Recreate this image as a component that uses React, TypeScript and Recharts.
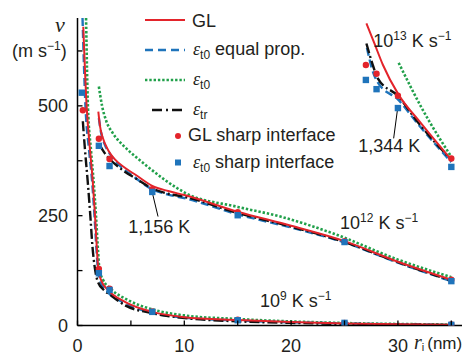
import React from 'react';
import { ComposedChart, Line, Scatter, XAxis, YAxis, ReferenceLine } from 'recharts';

type P = [number, number];

// ---- cooling rate 10^9 K/s ----
const gl9: P[] = [[0.54, 680], [0.86, 497], [1.17, 400], [1.42, 331], [1.64, 250], [1.82, 172], [1.95, 126], [2.2, 104], [2.85, 81], [4.44, 54], [7, 31], [10, 19], [15, 12.5], [20, 8], [25, 4.6], [30, 2.7], [35, 1.6]];
const eq9: P[] = [[0.47, 700], [0.75, 497], [1.08, 400], [1.36, 331], [1.59, 250], [1.78, 172], [1.92, 126], [2.15, 99], [2.76, 78], [4.44, 51], [7, 28.5], [10, 18], [15, 11.4], [25, 4.6], [35, 1.1]];
const t09: P[] = [[0.8, 700], [0.98, 497], [1.26, 400], [1.5, 331], [1.73, 250], [1.92, 172], [2.06, 126], [2.39, 104], [3.13, 83], [4.72, 58], [7.25, 35], [10, 23], [15, 14.8], [25, 5.7], [35, 2.3]];
const tr9: P[] = [[0.5, 465], [0.7, 400], [0.95, 330], [1.2, 250], [1.4, 180], [1.6, 135], [1.9, 100], [2.5, 80], [3.04, 70], [4.44, 46], [7, 28], [10, 17], [15, 9.5], [20, 6], [25, 3.4], [30, 2], [35, 1.1]];

// ---- cooling rate 10^12 K/s ----
const gl12: P[] = [[1.95, 487], [2.1, 455], [2.4, 425], [2.9, 398], [3.5, 378], [4.5, 358], [5.5, 342], [7, 318], [8.5, 306], [10, 297], [15, 259], [20, 227], [25, 192], [30, 145], [35, 104]];
const eq12: P[] = [[2.0, 472], [2.2, 440], [2.5, 415], [3.0, 392], [3.8, 368], [5.2, 340], [7, 310], [8.5, 298], [10, 290], [15, 253], [20, 223], [25, 189], [30, 143], [35, 101]];
const t012: P[] = [[2.0, 544], [2.3, 500], [2.7, 465], [3.3, 438], [4.4, 407], [5.5, 383], [6.6, 361], [8.2, 331], [10, 303], [15, 270], [19, 248], [24, 209], [30, 150], [35, 110]];
const tr12: P[] = [[2.1, 410], [2.5, 394], [2.9, 382], [4.1, 356], [5.5, 334], [7, 312], [8.5, 300], [10, 293], [15, 256], [20, 225], [25, 190], [30, 144], [35, 102]];

// ---- cooling rate 10^13 K/s ----
const gl13: P[] = [[27.05, 688], [27.8, 642], [28.6, 593], [30.07, 525], [32, 465], [35, 377]];
const eq13: P[] = [[27.1, 632], [27.6, 582], [28.1, 554], [30.07, 513], [31.8, 461], [35, 372]];
const t013: P[] = [[30.07, 598], [32.3, 492], [35, 384]];
const tr13: P[] = [[27.05, 642], [27.7, 589], [28.1, 563], [30.07, 521], [31.7, 468], [35, 377]];

// ---- sharp interface points ----
const glSharp: P[] = [[0.5, 490], [2, 129], [3, 84], [7, 32], [15, 13], [25, 6], [35, 2.5],
  [2, 425], [3, 379], [7, 310], [15, 258], [25, 192], [35, 104],
  [27, 593], [28, 573], [30, 523], [35, 380]];
const eqSharp: P[] = [[0.4, 530], [2, 119], [3, 81], [7, 31], [15, 12], [25, 6], [35, 1.5],
  [2, 409], [3, 363], [7, 304], [15, 251], [25, 190], [35, 101],
  [27, 559], [28, 538], [30, 495], [35, 361]];

// ---- axes ----
const xTicks = [0, 5, 10, 15, 20, 25, 30, 35];
const xLabelTicks = [0, 10, 20, 30];
const yTicks = [0, 125, 250, 375, 500, 625];
const yLabelTicks = [0, 250, 500];

// leader lines for annotations
const lead1156: P[] = [[7.06, 297], [7.54, 248]];
const lead1344: P[] = [[29.95, 490], [29.6, 426]];

const RED = '#e3242b';
const BLUE = '#1f74bb';
const GREEN = '#21a04a';
const BLACK = '#111111';
const TXT = '#231f20';
const sans = '"Liberation Sans", Arial, sans-serif';
const serif = '"Liberation Serif", "DejaVu Serif", serif';

const toObj = (a: P[]) => a.map(([r, v]) => ({ r, v }));

const XTick = (props: any) => {
  const { x, y, payload } = props;
  const v = payload.value;
  return (
    <g>
      <line x1={x} x2={x} y1={y} y2={y - 5} stroke="#000" strokeWidth={1.3} />
      {xLabelTicks.includes(v) && (
        <text x={x} y={y + 26} textAnchor="middle" fontSize={18} fontFamily={sans} fill={TXT}>{v}</text>
      )}
    </g>
  );
};

const YTick = (props: any) => {
  const { x, y, payload } = props;
  const v = payload.value;
  return (
    <g>
      <line x1={x} x2={x + 5} y1={y} y2={y} stroke="#000" strokeWidth={1.3} />
      {yLabelTicks.includes(v) && (
        <text x={x - 9.5} y={y + 6.4} textAnchor="end" fontSize={18} fontFamily={sans} fill={TXT}>{v}</text>
      )}
    </g>
  );
};

const RedDot = (p: any) => <circle cx={p.cx} cy={p.cy} r={3.2} fill={RED} />;
const BlueSq = (p: any) => <rect x={p.cx - 3.2} y={p.cy - 3.2} width={6.4} height={6.4} fill={BLUE} />;

const lineCommon = { dataKey: 'v', dot: false, activeDot: false, isAnimationActive: false, type: 'monotone' as const };

const Eps = ({ sub }: { sub: string }) => (
  <>
    <tspan fontFamily={serif} fontStyle="italic" fontSize={18}>ε</tspan>
    <tspan fontSize={12} dy={4}>{sub}</tspan>
  </>
);

export default function App() {
  return (
    <div style={{ position: 'absolute', left: 0, top: 0, width: 473, height: 354, background: '#fff' }}>
      <ComposedChart width={473} height={354} margin={{ top: 18, right: 11, bottom: 0, left: 0 }}>
        <XAxis type="number" dataKey="r" domain={[0, 36]} ticks={xTicks} interval={0} allowDataOverflow
          tick={<XTick />} tickLine={false} tickSize={0} tickMargin={0} height={28.5}
          axisLine={{ stroke: '#000', strokeWidth: 1.5 }} />
        <YAxis type="number" domain={[0, 700]} ticks={yTicks} interval={0} allowDataOverflow
          tick={<YTick />} tickLine={false} tickSize={0} tickMargin={0} width={77.5}
          axisLine={{ stroke: '#000', strokeWidth: 1.5 }} />

        {[t09, t012, t013].map((d, i) => (
          <Line key={'g' + i} {...lineCommon} data={toObj(d)} stroke={GREEN} strokeWidth={2.6} strokeDasharray="2.4 1.9" />
        ))}
        {[eq9, eq12, eq13].map((d, i) => (
          <Line key={'b' + i} {...lineCommon} data={toObj(d)} stroke={BLUE} strokeWidth={2.4} strokeDasharray="8 4" />
        ))}
        {[tr9, tr12, tr13].map((d, i) => (
          <Line key={'k' + i} {...lineCommon} data={toObj(d)} stroke={BLACK} strokeWidth={2.4} strokeDasharray="10 3 2 3" />
        ))}
        {[gl9, gl12, gl13].map((d, i) => (
          <Line key={'r' + i} {...lineCommon} data={toObj(d)} stroke={RED} strokeWidth={2} />
        ))}

        <Scatter data={toObj(glSharp)} dataKey="v" isAnimationActive={false} shape={RedDot} />
        <Scatter data={toObj(eqSharp)} dataKey="v" isAnimationActive={false} shape={BlueSq} />

        <ReferenceLine segment={toObj(lead1156).map(p => ({ x: p.r, y: p.v }))} stroke="#000" strokeWidth={1} />
        <ReferenceLine segment={toObj(lead1344).map(p => ({ x: p.r, y: p.v }))} stroke="#000" strokeWidth={1} />
      </ComposedChart>

      <svg width={473} height={354} style={{ position: 'absolute', left: 0, top: 0, pointerEvents: 'none' }}
        fontFamily={sans} fill={TXT}>
        {/* axis labels */}
        <text x={55} y={31.7} fontFamily={serif} fontStyle="italic" fontSize={22}>v</text>
        <text x={12} y={57} fontSize={18}>(m s<tspan fontSize={12} dy={-7}>−1</tspan><tspan dy={7}>)</tspan></text>
        <text x={414} y={348.5} fontSize={17}>
          <tspan fontFamily={serif} fontStyle="italic" fontSize={20}>r</tspan>
          <tspan fontSize={11} dy={2.5}>i</tspan>
          <tspan dy={-2.5} dx={3}>(nm)</tspan>
        </text>

        {/* legend */}
        <line x1={145} x2={185} y1={20} y2={20} stroke={RED} strokeWidth={2} />
        <text x={192} y={26.7} fontSize={18}>GL</text>
        <line x1={145} x2={185} y1={50} y2={50} stroke={BLUE} strokeWidth={2.4} strokeDasharray="8 5" />
        <text x={193} y={54.5} fontSize={18}><Eps sub="t0" /><tspan dy={-4} fontSize={18}> equal prop.</tspan></text>
        <line x1={145} x2={185} y1={80} y2={80} stroke={GREEN} strokeWidth={2.6} strokeDasharray="2.4 1.9" />
        <text x={193} y={84.5} fontSize={18}><Eps sub="t0" /></text>
        <line x1={152} x2={185} y1={110} y2={110} stroke={BLACK} strokeWidth={2.4} strokeDasharray="10 4 2 4" />
        <text x={193} y={114.5} fontSize={18}><Eps sub="tr" /></text>
        <circle cx={178} cy={136} r={3} fill={RED} />
        <text x={188} y={140.5} fontSize={18}>GL sharp interface</text>
        <rect x={175} y={159.5} width={6} height={6} fill={BLUE} />
        <text x={193} y={168} fontSize={18}><Eps sub="t0" /><tspan dy={-4} fontSize={18}> sharp interface</tspan></text>

        {/* annotations */}
        <text x={373.3} y={46.7} fontSize={18}>10<tspan fontSize={12} dy={-7}>13</tspan><tspan dy={7}> K s</tspan><tspan fontSize={12} dy={-7}>−1</tspan></text>
        <text x={340} y={229.3} fontSize={18}>10<tspan fontSize={12} dy={-7}>12</tspan><tspan dy={7}> K s</tspan><tspan fontSize={12} dy={-7}>−1</tspan></text>
        <text x={260} y={306.7} fontSize={18}>10<tspan fontSize={12} dy={-7}>9</tspan><tspan dy={7}> K s</tspan><tspan fontSize={12} dy={-7}>−1</tspan></text>
        <text x={128.3} y={233.3} fontSize={18}>1,156 K</text>
        <text x={358.3} y={151.7} fontSize={18}>1,344 K</text>
      </svg>
    </div>
  );
}
